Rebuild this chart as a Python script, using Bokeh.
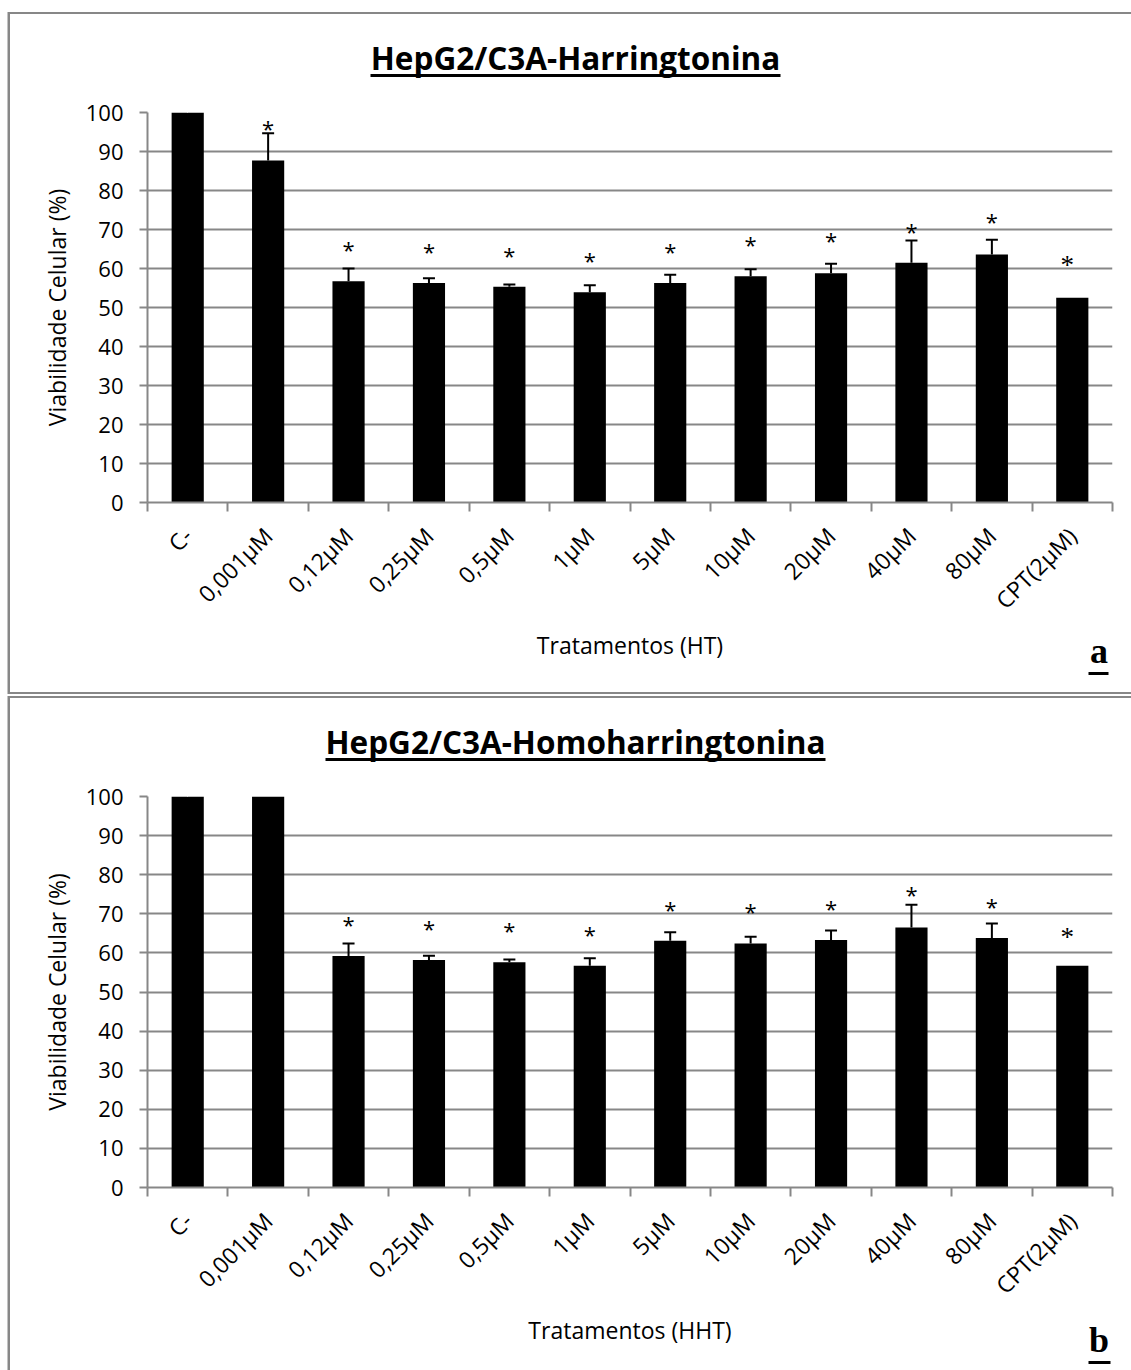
import math

from bokeh.core.properties import value
from bokeh.embed import file_html
from bokeh.layouts import column
from bokeh.models import (ColumnDataSource, FixedTicker, LinearAxis, Range1d,
                          TeeHead, Whisker)
from bokeh.plotting import figure
from bokeh.resources import INLINE

# ---- data -------------------------------------------------------------
categories = ["C-", "0,001µM", "0,12µM", "0,25µM", "0,5µM", "1µM", "5µM",
              "10µM", "20µM", "40µM", "80µM", "CPT(2µM)"]

# Harringtonine (HT): mean viability (%), upper SD, height of the "*" mark
ht_viability = [100, 87.7, 56.7, 56.3, 55.3, 53.9, 56.3, 58.0, 58.8, 61.5, 63.6, 52.5]
ht_error = [0, 7.0, 3.3, 1.2, 0.6, 1.8, 2.1, 1.8, 2.4, 5.7, 3.8, 0]
ht_star = [None, 95.9, 65.0, 64.6, 63.5, 62.2, 64.6, 66.3, 67.2, 69.7, 72.1, 61.6]

# Homoharringtonine (HHT)
hht_viability = [100, 100, 59.2, 58.2, 57.6, 56.7, 63.1, 62.4, 63.3, 66.5, 63.8, 56.7]
hht_error = [0, 0, 3.2, 1.1, 0.7, 1.9, 2.2, 1.7, 2.4, 5.8, 3.7, 0]
hht_star = [None, None, 67.4, 66.3, 65.8, 64.8, 71.2, 70.8, 71.4, 75.0, 72.0, 64.8]

y_ticks = list(range(0, 101, 10))

# ---- styling ----------------------------------------------------------
W = 1131
LEFT, RIGHT = 147, 19
GREY = "#878787"
SANS = "Open Sans"
SERIF = "Liberation Serif"
N = len(categories)
centers = [i + 0.5 for i in range(N)]
bounds = list(range(N + 1))
KX = (W - LEFT - RIGHT) / N


def xd(px):
    """horizontal canvas pixel -> x data coordinate"""
    return round((px - LEFT) / KX, 4)


def bare_axis(**kw):
    ax = LinearAxis(ticker=FixedTicker(ticks=kw.pop("ticks", []), minor_ticks=[]),
                    major_tick_line_color=None, minor_tick_line_color=None,
                    major_tick_in=0, minor_tick_in=0, minor_tick_out=0,
                    major_label_standoff=0, axis_line_color=None)
    for k, v in kw.items():
        setattr(ax, k, v)
    return ax


def panel(title, title_cx, title_line, xlabel, letter, letter_line, letter_standoff,
          vals, errs, stars, height, top, bottom, gap_above, shadow):
    p = figure(width=W, height=height, x_range=Range1d(0, N), y_range=Range1d(0, 100),
               output_backend="svg", toolbar_location=None,
               min_border_left=LEFT, min_border_right=RIGHT,
               min_border_top=top, min_border_bottom=bottom,
               styles={"box-shadow": shadow})
    p.outline_line_color = None
    p.background_fill_color = "white"
    p.border_fill_color = None

    # bars
    p.vbar(x=centers, top=vals, width=0.4, fill_color="black", line_color=None)

    # upper error bars
    eb = [(c, v, v + e) for c, v, e in zip(centers, vals, errs) if e > 0]
    src = ColumnDataSource(dict(x=[a for a, _, _ in eb], lower=[b for _, b, _ in eb],
                                upper=[c for _, _, c in eb]))
    p.add_layout(Whisker(source=src, base="x", lower="lower", upper="upper",
                         line_color="black", line_width=2, lower_head=None,
                         upper_head=TeeHead(size=12, line_color="black", line_width=2)))

    # significance marks
    sx = [c for c, s in zip(centers[:-1], stars[:-1]) if s is not None]
    sy = [s for s in stars[:-1] if s is not None]
    p.text(x=sx, y=sy, text=["*"] * len(sx), text_font=value(SANS),
           text_font_size="22px", text_align="center", text_baseline="alphabetic",
           text_color="black")
    p.text(x=[centers[-1]], y=[stars[-1]], text=["*"], text_font=value(SERIF),
           text_font_size="27px", text_align="center", text_baseline="alphabetic",
           x_offset=-5, y_offset=2.5, text_color="black")

    # category axis: labels at bar centres, ticks at category boundaries
    xa = p.xaxis[0]
    xa.ticker = FixedTicker(ticks=centers, minor_ticks=bounds)
    xa.major_label_overrides = {c: lab for c, lab in zip(centers, categories)}
    xa.major_label_orientation = math.pi / 4
    xa.major_tick_line_color = None
    xa.major_tick_out = 0
    xa.minor_tick_out = 9
    xa.minor_tick_in = 0
    xa.minor_tick_line_color = GREY
    xa.minor_tick_line_width = 2
    xa.axis_line_color = GREY
    xa.axis_line_width = 2
    xa.major_label_standoff = 20
    xa.major_label_text_font = SANS
    xa.major_label_text_font_size = "23px"
    xa.major_label_text_color = "black"
    xa.axis_label = xlabel
    xa.axis_label_text_font = SANS
    xa.axis_label_text_font_size = "23px"
    xa.axis_label_text_font_style = "normal"
    xa.axis_label_text_color = "black"
    xa.axis_label_standoff = -1

    ya = p.yaxis[0]
    ya.ticker = FixedTicker(ticks=y_ticks, minor_ticks=[])
    ya.major_tick_out = 8
    ya.major_tick_in = 0
    ya.major_tick_line_color = GREY
    ya.major_tick_line_width = 2
    ya.axis_line_color = GREY
    ya.axis_line_width = 2
    ya.major_label_standoff = 16
    ya.major_label_text_font = SANS
    ya.major_label_text_font_size = "22px"
    ya.major_label_text_color = "black"
    ya.axis_label = "Viabilidade Celular (%)"
    ya.axis_label_text_font = SANS
    ya.axis_label_text_font_size = "23px"
    ya.axis_label_text_font_style = "normal"
    ya.axis_label_text_color = "black"
    ya.axis_label_standoff = 10

    p.xgrid.grid_line_color = None
    p.ygrid.grid_line_color = GREY
    p.ygrid.grid_line_width = 2

    # underlined title above the frame: a spacer axis (one blank, white tick
    # sitting on the white margin), then an axis whose line is the underline
    # and whose single tick label is the title
    sp = centers[0]
    p.add_layout(bare_axis(ticks=[sp], major_label_overrides={sp: ""},
                           major_label_text_font_size="1px",
                           major_tick_out=gap_above, major_tick_line_color="white"), "above")
    tx = xd(title_cx)
    p.add_layout(bare_axis(ticks=[tx], major_label_overrides={tx: title},
                           major_label_text_font=SANS, major_label_text_font_size="31.5px",
                           major_label_text_font_style="bold",
                           major_label_text_color="black",
                           major_label_orientation="horizontal",
                           major_label_standoff=-9,
                           axis_line_color="black", axis_line_width=3,
                           bounds=(xd(title_line[0]), xd(title_line[1]))), "above")

    # underlined panel letter beside the axis title
    lx = xd(1098.5)
    p.add_layout(bare_axis(ticks=[lx], major_label_overrides={lx: letter},
                           major_label_text_font=SERIF, major_label_text_font_size="36px",
                           major_label_text_font_style="bold",
                           major_label_text_color="black",
                           major_label_orientation="horizontal",
                           major_label_standoff=letter_standoff), "below")
    p.add_layout(bare_axis(axis_line_color="black", axis_line_width=3,
                           bounds=(xd(letter_line[0]), xd(letter_line[1]))), "below")
    return p


# panel frames drawn as inset shadows on the figure elements (white bands mask
# the outer part so only a thin grey rule remains)
top_shadow = ("inset 7.5px 0 0 0 white, inset 0 12px 0 0 white, inset 0 -1px 0 0 white, "
              "inset 10px 0 0 0 %s, inset 0 14px 0 0 %s, inset 0 -3px 0 0 %s" % (GREY, GREY, GREY))
bottom_shadow = ("inset 7.5px 0 0 0 white, inset 0 1px 0 0 white, "
                 "inset 10px 0 0 0 %s, inset 0 3px 0 0 %s" % (GREY, GREY))

p1 = panel("HepG2/C3A-Harringtonina", 575, (370, 780), "Tratamentos (HT)",
           "a", (1088, 1108), -39, ht_viability, ht_error, ht_star,
           695, 112, 193, 37, top_shadow)
p2 = panel("HepG2/C3A-Homoharringtonina", 575, (324.5, 825), "Tratamentos (HHT)",
           "b", (1088, 1110), -35, hht_viability, hht_error, hht_star,
           675, 101, 183, 37, bottom_shadow)

layout = column(p1, p2, spacing=0)
open("out.html", "w").write(file_html(layout, INLINE))
